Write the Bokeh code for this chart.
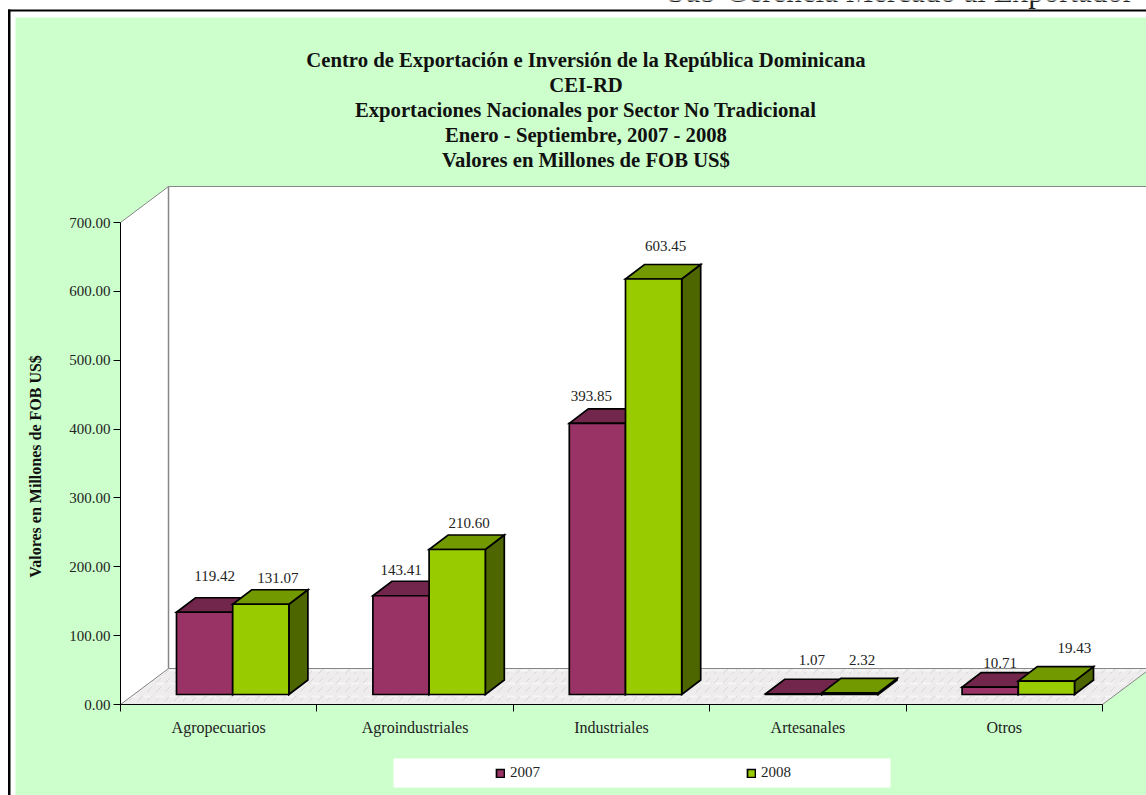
from bokeh.plotting import figure
from bokeh.models import BoxAnnotation, Label, Range1d, FixedTicker, Legend, LegendItem, NumeralTickFormatter
from bokeh.embed import file_html
from bokeh.resources import INLINE
from bokeh.core.properties import value
import math

# ---- data
categories = ["Agropecuarios", "Agroindustriales", "Industriales", "Artesanales", "Otros"]
series_names = ["2007", "2008"]
values_2007 = [119.42, 143.41, 393.85, 1.07, 10.71]
values_2008 = [131.07, 210.60, 603.45, 2.32, 19.43]
y_ticks = [0, 100, 200, 300, 400, 500, 600, 700]
title_lines = [
    "Centro de Exportación e Inversión de la República Dominicana",
    "CEI-RD",
    "Exportaciones Nacionales por Sector No Tradicional",
    "Enero - Septiembre, 2007 - 2008",
    "Valores en Millones de FOB US$",
]
y_title = "Valores en Millones de FOB US$"
page_header = "Sub-Gerencia Mercado al Exportador"

# ---- layout (pixels)
W, H = 1146, 795
AX_L, AX_B = 120, 704
CAT_PX = 196.4
UNIT_PX = 482 / 700
def X(px): return (px - AX_L) / CAT_PX
def Y(py): return (AX_B - py) / UNIT_PX

WALL_DX, WALL_DY = 48 / CAT_PX, 36 / UNIT_PX
BAR_DX, BAR_DY = 19 / CAT_PX, 14.5 / UNIT_PX
FLOOR = 10 / UNIT_PX
BAR_W = 56.2 / CAT_PX
BAR_START = 56 / CAT_PX

SERIF = "Liberation Serif"
FS = "15px"
COL = {"2007": ("#993366", "#72264C", "#4D1A33"), "2008": ("#99CC00", "#729900", "#4D6600")}

p = figure(width=W, height=H, output_backend="svg", toolbar_location=None,
           x_range=Range1d(X(0), X(W)), y_range=Range1d(Y(H), Y(0)),
           min_border=0)
p.grid.visible = False
p.outline_line_color = None
p.border_fill_color = "white"
p.background_fill_color = "white"

# ---- page chrome
for l, r, t, b, c in [(15, W, 17, H, "#CCFFCC"),
                      (7.5, 10, 9, H, "black"),
                      (7.5, W, 9, 11, "black"),
                      (393, 890, 758, 787, "white")]:
    p.add_layout(BoxAnnotation(left=X(l), right=X(r), top=Y(t), bottom=Y(b),
                               fill_color=c, fill_alpha=1, line_color=None, level="underlay"))
p.add_layout(Label(x=X(667), y=Y(-9), text=page_header, text_align="left", text_baseline="alphabetic",
                   text_font=SERIF, text_font_size="31px", text_color="#222222"))

# ---- walls and floor
n = len(categories)
top = 700
p.patch([WALL_DX, X(W), X(W), WALL_DX], [WALL_DY, WALL_DY, top + WALL_DY, top + WALL_DY],
        fill_color="white", line_color=None)
p.patch([0, WALL_DX, WALL_DX, 0], [0, WALL_DY, top + WALL_DY, top], fill_color="white", line_color=None)
floor_x, floor_y = [0, n, n + WALL_DX, WALL_DX], [0, 0, WALL_DY, WALL_DY]
p.patch(floor_x, floor_y, fill_color="#EEECEC", line_color=None,
        hatch_pattern="right_diagonal_dash", hatch_color="#D9D7D7", hatch_scale=9, hatch_weight=1)
p.patch(floor_x, floor_y, fill_alpha=0, line_color=None,
        hatch_pattern="horizontal_dash", hatch_color="#F7F6F6", hatch_scale=13, hatch_weight=2)
GRAY = "#868686"
p.line([WALL_DX, WALL_DX], [WALL_DY, top + WALL_DY], line_color=GRAY, line_width=1.5)
p.line([WALL_DX, X(W)], [top + WALL_DY, top + WALL_DY], line_color=GRAY, line_width=1.2)
p.line([WALL_DX, X(W)], [WALL_DY, WALL_DY], line_color=GRAY, line_width=1.2)
p.line([0, WALL_DX], [top, top + WALL_DY], line_color=GRAY, line_width=1)
p.line([0, WALL_DX], [0, WALL_DY], line_color=GRAY, line_width=1)
p.line([n, n + WALL_DX], [0, WALL_DY], line_color=GRAY, line_width=1)

# ---- bars
legend_items = []
for s, (name, vals) in enumerate(zip(series_names, [values_2007, values_2008])):
    front, lid, side = COL[name]
    fxs, fys, txs, tys, sxs, sys_ = [], [], [], [], [], []
    for i, v in enumerate(vals):
        x0 = i + BAR_START + s * BAR_W
        x1 = x0 + BAR_W
        yb, yt = FLOOR, FLOOR + v
        fxs.append([x0, x1, x1, x0]); fys.append([yb, yb, yt, yt])
        txs.append([x0, x1, x1 + BAR_DX, x0 + BAR_DX]); tys.append([yt, yt, yt + BAR_DY, yt + BAR_DY])
        sxs.append([x1, x1 + BAR_DX, x1 + BAR_DX, x1]); sys_.append([yb, yb + BAR_DY, yt + BAR_DY, yt])
    kw = dict(line_color="black", line_width=1.7, line_join="miter")
    p.patches(sxs, sys_, fill_color=side, **kw)
    p.patches(txs, tys, fill_color=lid, **kw)
    r = p.patches(fxs, fys, fill_color=front, **kw)
    legend_items.append(LegendItem(label=name, renderers=[r]))

# ---- value labels (centre offsets in pixels from the front-top centre of each bar)
off_2007 = [(10, 36), (0, 26), (-6, 27), (18, 34), (10, 24)]
off_2008 = [(17, 26), (12, 26), (12, 33), (12, 33), (28, 33)]
for s, (vals, off) in enumerate([(values_2007, off_2007), (values_2008, off_2008)]):
    xs = [i + BAR_START + (s + .5) * BAR_W for i in range(n)]
    ys = [FLOOR + v for v in vals]
    p.text(xs, ys, text=[f"{v:.2f}" for v in vals],
           x_offset=[o[0] for o in off], y_offset=[-o[1] for o in off],
           text_font=value(SERIF), text_font_size=FS, text_color="#222222",
           text_align="center", text_baseline="middle")

# ---- axes
ya = p.yaxis[0]
ya.fixed_location = 0
ya.ticker = FixedTicker(ticks=y_ticks)
ya.bounds = (0, 700)
ya.formatter = NumeralTickFormatter(format="0.00")
ya.major_tick_out = 7; ya.major_tick_in = 0
ya.minor_tick_out = 0; ya.minor_tick_in = 0
ya.major_label_standoff = 3
ya.major_label_text_font = SERIF
ya.major_label_text_font_size = FS
ya.major_label_text_color = "#222222"
ya.axis_line_color = "black"

xa = p.xaxis[0]
xa.fixed_location = 0
centers = [i + .5 for i in range(n)]
xa.ticker = FixedTicker(ticks=centers, minor_ticks=list(range(n + 1)))
xa.bounds = (0, n)
xa.major_label_overrides = {c: t for c, t in zip(centers, categories)}
xa.major_tick_out = 0; xa.major_tick_in = 0
xa.minor_tick_out = 7; xa.minor_tick_in = 0
xa.minor_tick_line_color = "black"
xa.major_label_standoff = 7
xa.major_label_text_font = SERIF
xa.major_label_text_font_size = "16px"
xa.major_label_text_color = "#222222"
xa.axis_line_color = "black"

# ---- titles
for ln, ypx in zip(title_lines, [59, 84, 109, 134, 159]):
    p.add_layout(Label(x=X(585.5), y=Y(ypx), text=ln, text_align="center", text_baseline="middle",
                       text_font=SERIF, text_font_style="bold", text_font_size="20.7px",
                       text_color="#111111"))
p.add_layout(Label(x=X(35), y=Y(466), text=y_title, angle=math.pi / 2, text_align="center",
                   text_baseline="middle", text_font=SERIF, text_font_style="bold",
                   text_font_size="16px", text_color="#111111"))

# ---- legend
leg = Legend(items=legend_items, orientation="horizontal", location=(495, H - 787 + 6),
             background_fill_alpha=0, border_line_color=None, padding=0, margin=0,
             glyph_width=10, glyph_height=10, label_standoff=5, spacing=206,
             label_text_font=SERIF, label_text_font_size=FS, label_text_color="#222222")
p.add_layout(leg, "center")

open("out.html", "w").write(file_html(p, INLINE))
